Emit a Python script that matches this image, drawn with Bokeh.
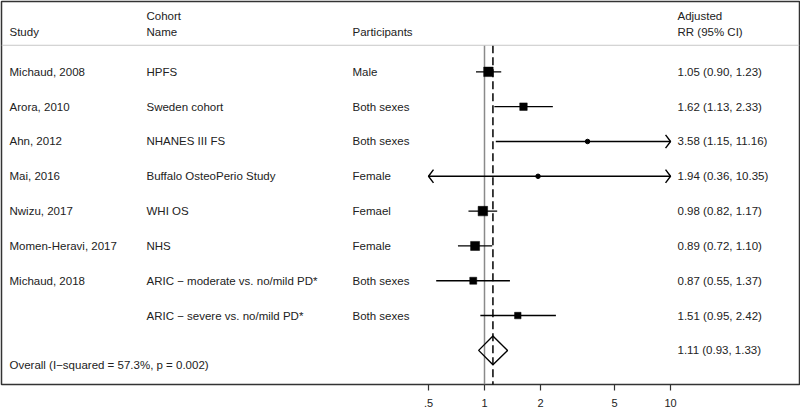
import math
from bokeh.plotting import figure
from bokeh.models import Range1d, LinearScale, FixedTicker, Span
from bokeh.core.properties import value
from bokeh.embed import file_html
from bokeh.resources import INLINE

# ---------------- data ----------------
study = ["Michaud, 2008", "Arora, 2010", "Ahn, 2012", "Mai, 2016", "Nwizu, 2017",
         "Momen-Heravi, 2017", "Michaud, 2018", ""]
cohort = ["HPFS", "Sweden cohort", "NHANES III FS", "Buffalo OsteoPerio Study", "WHI OS",
          "NHS", "ARIC \u2212 moderate vs. no/mild PD*", "ARIC \u2212 severe vs. no/mild PD*"]
participants = ["Male", "Both sexes", "Both sexes", "Female", "Femael", "Female",
                "Both sexes", "Both sexes"]
rr = [1.05, 1.62, 3.58, 1.94, 0.98, 0.89, 0.87, 1.51]
lo = [0.90, 1.13, 1.15, 0.36, 0.82, 0.72, 0.55, 0.95]
hi = [1.23, 2.33, 11.16, 10.35, 1.17, 1.10, 1.37, 2.42]
box_px = [9.5, 7.5, 0, 0, 9.5, 9, 7, 6.5]   # study weight boxes (0 = tiny, drawn as dot)

overall_label = "Overall  (I\u2212squared = 57.3%, p = 0.002)"
overall_rr, overall_lo, overall_hi = 1.11, 0.93, 1.33

header_top = ["", "Cohort", "", "Adjusted"]
header_bot = ["Study", "Name", "Participants", "RR (95% CI)"]

tick_values = [0.5, 1, 2, 5, 10]
tick_labels = [".5", "1", "2", "5", "10"]

# ---------------- layout ----------------
W, H = 800, 409
PX_PER_LN = 80.8      # pixels per natural-log unit
ONE_PX = 484          # page x of RR = 1
FR_L, FR_R = 1, 799   # frame left / right (page px)
FR_T, FR_B = 1, 386   # frame top / bottom (page px)
ROW0_PX, ROW_PX = 71.7, 35.0
x_start = math.exp((FR_L - ONE_PX) / PX_PER_LN)
x_end = math.exp((FR_R - ONE_PX) / PX_PER_LN)
y_top = (FR_T - ROW0_PX) / ROW_PX
y_bot = (FR_B - ROW0_PX) / ROW_PX

col_x = [9, 146, 352, 677]
FONT = value("Liberation Sans")
FS = "11.5px"
TXT = "#222222"

n = len(rr)
rows = list(range(n))
row_overall = n
row_overall_label = n + 0.43
row_sep = (45 - ROW0_PX) / ROW_PX
row_hdr_top = (16 - ROW0_PX) / ROW_PX
row_hdr_bot = (32 - ROW0_PX) / ROW_PX

p = figure(width=W, height=H, x_axis_type="log",
           x_range=Range1d(x_start, x_end), y_range=Range1d(y_bot, y_top),
           output_backend="svg", toolbar_location=None, y_axis_location=None,
           min_border=0, min_border_left=FR_L, min_border_right=W - FR_R,
           min_border_top=FR_T, min_border_bottom=H - FR_B)
p.extra_x_ranges = {"tbl": Range1d(FR_L, FR_R)}
p.extra_x_scales = {"tbl": LinearScale()}
p.grid.visible = False
p.outline_line_color = "#333333"
p.outline_line_width = 1.5
p.background_fill_color = "white"
p.border_fill_color = "white"

ax = p.xaxis[0]
ax.ticker = FixedTicker(ticks=tick_values, minor_ticks=[])
ax.major_label_overrides = {v: l for v, l in zip(tick_values, tick_labels)}
ax.axis_line_color = None
ax.major_tick_in = 0
ax.major_tick_out = 6
ax.major_tick_line_color = "#333333"
ax.major_tick_line_width = 1.2
ax.major_label_standoff = 8
ax.major_label_text_font = "Liberation Sans"
ax.major_label_text_font_size = "11px"
ax.major_label_text_color = TXT

# header separator
p.add_layout(Span(location=row_sep, dimension="width", line_color="#c8c8c8", line_width=1))

# null line and overall line
p.segment(x0=[1], x1=[1], y0=[row_sep], y1=[y_bot + 1], line_color="#8a8a8a", line_width=1.5)
p.segment(x0=[overall_rr], x1=[overall_rr], y0=[row_sep], y1=[y_bot + 1], line_color="black",
          line_width=1.5, line_dash="8 4")

# CIs, clipped at plotted range
ci_min, ci_max = tick_values[0], tick_values[-1]
clo = [max(a, ci_min) for a in lo]
chi = [min(b, ci_max) for b in hi]
p.segment(x0=clo, x1=chi, y0=rows, y1=rows, line_color="black", line_width=1.4)

# arrow chevrons where clipped
AW = math.exp(5 / PX_PER_LN)
AH = 0.19
axs, ays = [], []
for i in range(n):
    if hi[i] > ci_max:
        axs.append([ci_max / AW, ci_max, ci_max / AW])
        ays.append([i - AH, i, i + AH])
    if lo[i] < ci_min:
        axs.append([ci_min * AW, ci_min, ci_min * AW])
        ays.append([i - AH, i, i + AH])
p.multi_line(xs=axs, ys=ays, line_color="black", line_width=1.4)

# boxes and dots
bi = [i for i in range(n) if box_px[i] > 0]
di = [i for i in range(n) if box_px[i] == 0]
p.scatter(x=[rr[i] for i in bi], y=bi, size=[box_px[i] for i in bi], marker="square",
          fill_color="black", line_color="black", line_width=0.5)
p.scatter(x=[rr[i] for i in di], y=di, size=4.5, marker="circle",
          fill_color="black", line_color="black")

# overall diamond
DH = 0.41
p.patch(x=[overall_lo, overall_rr, overall_hi, overall_rr],
        y=[row_overall, row_overall - DH, row_overall, row_overall + DH],
        fill_color=None, line_color="black", line_width=1.4)

# table text
rr_txt = [f"{a:.2f} ({b:.2f}, {c:.2f})" for a, b, c in zip(rr, lo, hi)]
for cx, col in zip(col_x, [study, cohort, participants, rr_txt]):
    p.text(x=[cx] * n, y=rows, text=col, x_range_name="tbl", text_font=FONT,
           text_font_size=FS, text_color=TXT, text_baseline="middle", text_align="left")

p.text(x=col_x, y=[row_hdr_top] * 4, text=header_top, x_range_name="tbl", text_font=FONT,
       text_font_size=FS, text_color=TXT, text_baseline="middle")
p.text(x=col_x, y=[row_hdr_bot] * 4, text=header_bot, x_range_name="tbl", text_font=FONT,
       text_font_size=FS, text_color=TXT, text_baseline="middle")

p.text(x=[col_x[0]], y=[row_overall_label], text=[overall_label], x_range_name="tbl",
       text_font=FONT, text_font_size=FS, text_color=TXT, text_baseline="middle")
p.text(x=[col_x[3]], y=[row_overall],
       text=[f"{overall_rr:.2f} ({overall_lo:.2f}, {overall_hi:.2f})"], x_range_name="tbl",
       text_font=FONT, text_font_size=FS, text_color=TXT, text_baseline="middle")

open("out.html", "w").write(file_html(p, INLINE))
